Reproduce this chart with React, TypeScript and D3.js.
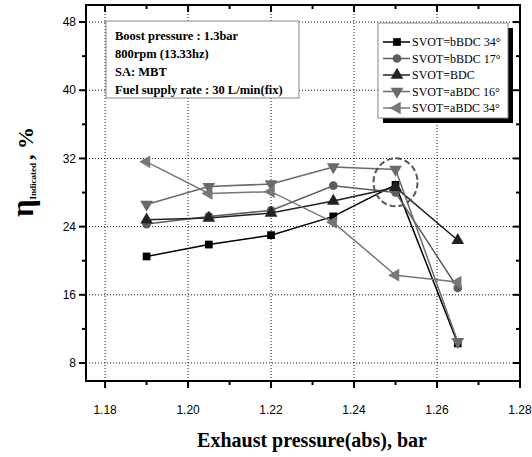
import React, { useRef, useEffect } from 'react';
import * as d3 from 'd3';

const pressures = [1.19, 1.205, 1.22, 1.235, 1.25, 1.265];

const seriesNames = [
  'SVOT=bBDC 34°',
  'SVOT=bBDC 17°',
  'SVOT=BDC',
  'SVOT=aBDC 16°',
  'SVOT=aBDC 34°',
];

const bBDC34 = [20.5, 21.9, 23.0, 25.2, 28.9, 10.3];
const bBDC17 = [24.3, 25.2, 25.9, 28.8, 28.0, 16.8];
const BDC = [24.8, 25.0, 25.6, 27.0, 28.6, 22.4];
const aBDC16 = [26.6, 28.7, 29.0, 31.0, 30.7, 10.5];
const aBDC34 = [31.6, 27.9, 28.1, 24.5, 18.3, 17.5];

const xTicks = [1.18, 1.2, 1.22, 1.24, 1.26, 1.28];
const yTicks = [8, 16, 24, 32, 40, 48];

const noteLines = [
  'Boost pressure : 1.3bar',
  '800rpm (13.33hz)',
  'SA: MBT',
  'Fuel supply rate : 30 L/min(fix)',
];

// highlighted point (dashed circle)
const highlight = { x: 1.25, y: 29.2 };

const colors = ['#000000', '#5e5e5e', '#222222', '#6a6a6a', '#777777'];
const shapes = ['square', 'circle', 'up', 'down', 'left'];

const App: React.FC = () => {
  const svgRef = useRef<SVGSVGElement>(null);

  useEffect(() => {
    const svg = d3.select(svgRef.current);
    svg.selectAll('*').remove();

    const left = 86, right = 520, top = 5, bottom = 381;
    const x = d3.scaleLinear().domain([1.1754, 1.28]).range([left, right]);
    const y = d3.scaleLinear().domain([5.89, 50]).range([bottom, top]);

    const seriesValues = [bBDC34, bBDC17, BDC, aBDC16, aBDC34];

    // grid
    const grid = svg.append('g');
    xTicks.filter(t => t < 1.279).forEach(t => {
      grid.append('line')
        .attr('x1', x(t)).attr('x2', x(t))
        .attr('y1', top).attr('y2', bottom)
        .attr('stroke', '#111').attr('stroke-width', 1)
        .attr('stroke-dasharray', '1,2');
    });
    yTicks.forEach(t => {
      grid.append('line')
        .attr('x1', left).attr('x2', right)
        .attr('y1', y(t)).attr('y2', y(t))
        .attr('stroke', '#111').attr('stroke-width', 1)
        .attr('stroke-dasharray', '1,2');
    });

    // annotation box
    const note = svg.append('g');
    note.append('rect')
      .attr('x', 106).attr('y', 21).attr('width', 193).attr('height', 77)
      .attr('fill', 'white').attr('stroke', '#888').attr('stroke-width', 1);
    noteLines.forEach((t, i) => {
      note.append('text')
        .attr('x', 115).attr('y', 40 + i * 18)
        .style('font-family', '"Liberation Serif", "Times New Roman", serif')
        .style('font-weight', 'bold')
        .style('font-size', '12.5px')
        .text(t);
    });

    // series
    const symbolFor = (s: string) => {
      if (s === 'square') return d3.symbol().type(d3.symbolSquare).size(60)();
      if (s === 'circle') return d3.symbol().type(d3.symbolCircle).size(60)();
      return d3.symbol().type(d3.symbolTriangle).size(70)();
    };
    const rot: Record<string, number> = { up: 0, down: 180, left: -90, square: 0, circle: 0 };

    seriesValues.forEach((vals, si) => {
      const pts = pressures.map((p, i) => [p, vals[i]] as [number, number]);
      const line = d3.line<[number, number]>().x(d => x(d[0])).y(d => y(d[1]));
      svg.append('path')
        .datum(pts)
        .attr('fill', 'none')
        .attr('stroke', colors[si])
        .attr('stroke-width', 1.5)
        .attr('d', line);
      svg.selectAll(null)
        .data(pts)
        .enter().append('path')
        .attr('d', symbolFor(shapes[si]))
        .attr('transform', d => `translate(${x(d[0])},${y(d[1])}) rotate(${rot[shapes[si]]})`)
        .attr('fill', colors[si]);
    });

    // dashed highlight
    svg.append('ellipse')
      .attr('cx', x(highlight.x)).attr('cy', y(highlight.y))
      .attr('rx', 22).attr('ry', 24)
      .attr('fill', 'none')
      .attr('stroke', '#555').attr('stroke-width', 2)
      .attr('stroke-dasharray', '6,3');

    // frame
    svg.append('rect')
      .attr('x', left).attr('y', top)
      .attr('width', right - left).attr('height', bottom - top)
      .attr('fill', 'none').attr('stroke', '#000').attr('stroke-width', 2);

    const minorX = d3.range(1.19, 1.28, 0.02);
    const minorY = d3.range(12, 50, 8);

    // bottom axis (outward) & top (inward)
    xTicks.forEach(t => {
      svg.append('line').attr('x1', x(t)).attr('x2', x(t)).attr('y1', bottom).attr('y2', bottom + 7)
        .attr('stroke', '#000').attr('stroke-width', 2);
      svg.append('line').attr('x1', x(t)).attr('x2', x(t)).attr('y1', top).attr('y2', top + 7)
        .attr('stroke', '#000').attr('stroke-width', 2);
      svg.append('text')
        .attr('x', x(t)).attr('y', 414)
        .attr('text-anchor', 'middle')
        .style('font-family', '"Liberation Sans", Arial, sans-serif')
        .style('font-size', '12px')
        .text(d3.format('.2f')(t));
    });
    minorX.forEach(t => {
      svg.append('line').attr('x1', x(t)).attr('x2', x(t)).attr('y1', bottom).attr('y2', bottom + 4)
        .attr('stroke', '#000').attr('stroke-width', 2);
      svg.append('line').attr('x1', x(t)).attr('x2', x(t)).attr('y1', top).attr('y2', top + 4)
        .attr('stroke', '#000').attr('stroke-width', 2);
    });

    // left axis (outward) & right (inward)
    yTicks.forEach(t => {
      svg.append('line').attr('x1', left - 7).attr('x2', left).attr('y1', y(t)).attr('y2', y(t))
        .attr('stroke', '#000').attr('stroke-width', 2);
      svg.append('line').attr('x1', right - 7).attr('x2', right).attr('y1', y(t)).attr('y2', y(t))
        .attr('stroke', '#000').attr('stroke-width', 2);
      svg.append('text')
        .attr('x', 76).attr('y', y(t)).attr('dy', '0.35em')
        .attr('text-anchor', 'end')
        .style('font-family', '"Liberation Sans", Arial, sans-serif')
        .style('font-size', '12px')
        .text(t);
    });
    minorY.forEach(t => {
      svg.append('line').attr('x1', left - 4).attr('x2', left).attr('y1', y(t)).attr('y2', y(t))
        .attr('stroke', '#000').attr('stroke-width', 2);
      svg.append('line').attr('x1', right - 4).attr('x2', right).attr('y1', y(t)).attr('y2', y(t))
        .attr('stroke', '#000').attr('stroke-width', 2);
    });

    // legend
    const lg = svg.append('g');
    lg.append('rect').attr('x', 383).attr('y', 28).attr('width', 130).attr('height', 95).attr('fill', '#000');
    lg.append('rect').attr('x', 378).attr('y', 23).attr('width', 130).attr('height', 95)
      .attr('fill', 'white').attr('stroke', '#888').attr('stroke-width', 1);
    seriesNames.forEach((name, i) => {
      const cy = 42 + i * 16.5;
      lg.append('line').attr('x1', 383).attr('x2', 410).attr('y1', cy).attr('y2', cy)
        .attr('stroke', colors[i]).attr('stroke-width', 1.5);
      lg.append('path')
        .attr('d', symbolFor(shapes[i]))
        .attr('transform', `translate(397,${cy}) rotate(${rot[shapes[i]]})`)
        .attr('fill', colors[i]);
      lg.append('text')
        .attr('x', 412).attr('y', cy).attr('dy', '0.35em')
        .style('font-family', '"Liberation Serif", "Times New Roman", serif')
        .style('font-size', '12px')
        .text(name);
    });

    // axis titles
    svg.append('text')
      .attr('x', 312).attr('y', 447)
      .attr('text-anchor', 'middle')
      .style('font-family', '"Liberation Serif", "Times New Roman", serif')
      .style('font-weight', 'bold')
      .style('font-size', '20px')
      .text('Exhaust pressure(abs), bar');

    const yt = svg.append('text')
      .attr('transform', 'translate(33,172) rotate(-90)')
      .attr('text-anchor', 'middle')
      .style('font-family', '"Liberation Serif", "Times New Roman", serif')
      .style('font-weight', 'bold');
    yt.append('tspan').style('font-size', '31px').text('η');
    yt.append('tspan').style('font-size', '9px').attr('dy', 3).text('Indicated');
    yt.append('tspan').style('font-size', '22px').attr('dy', -3).attr('dx', 3).text(', %');
  }, []);

  return (
    <svg ref={svgRef} width={532} height={457}
      style={{ position: 'absolute', left: 0, top: 0, background: 'white' }} />
  );
};

export default App;
